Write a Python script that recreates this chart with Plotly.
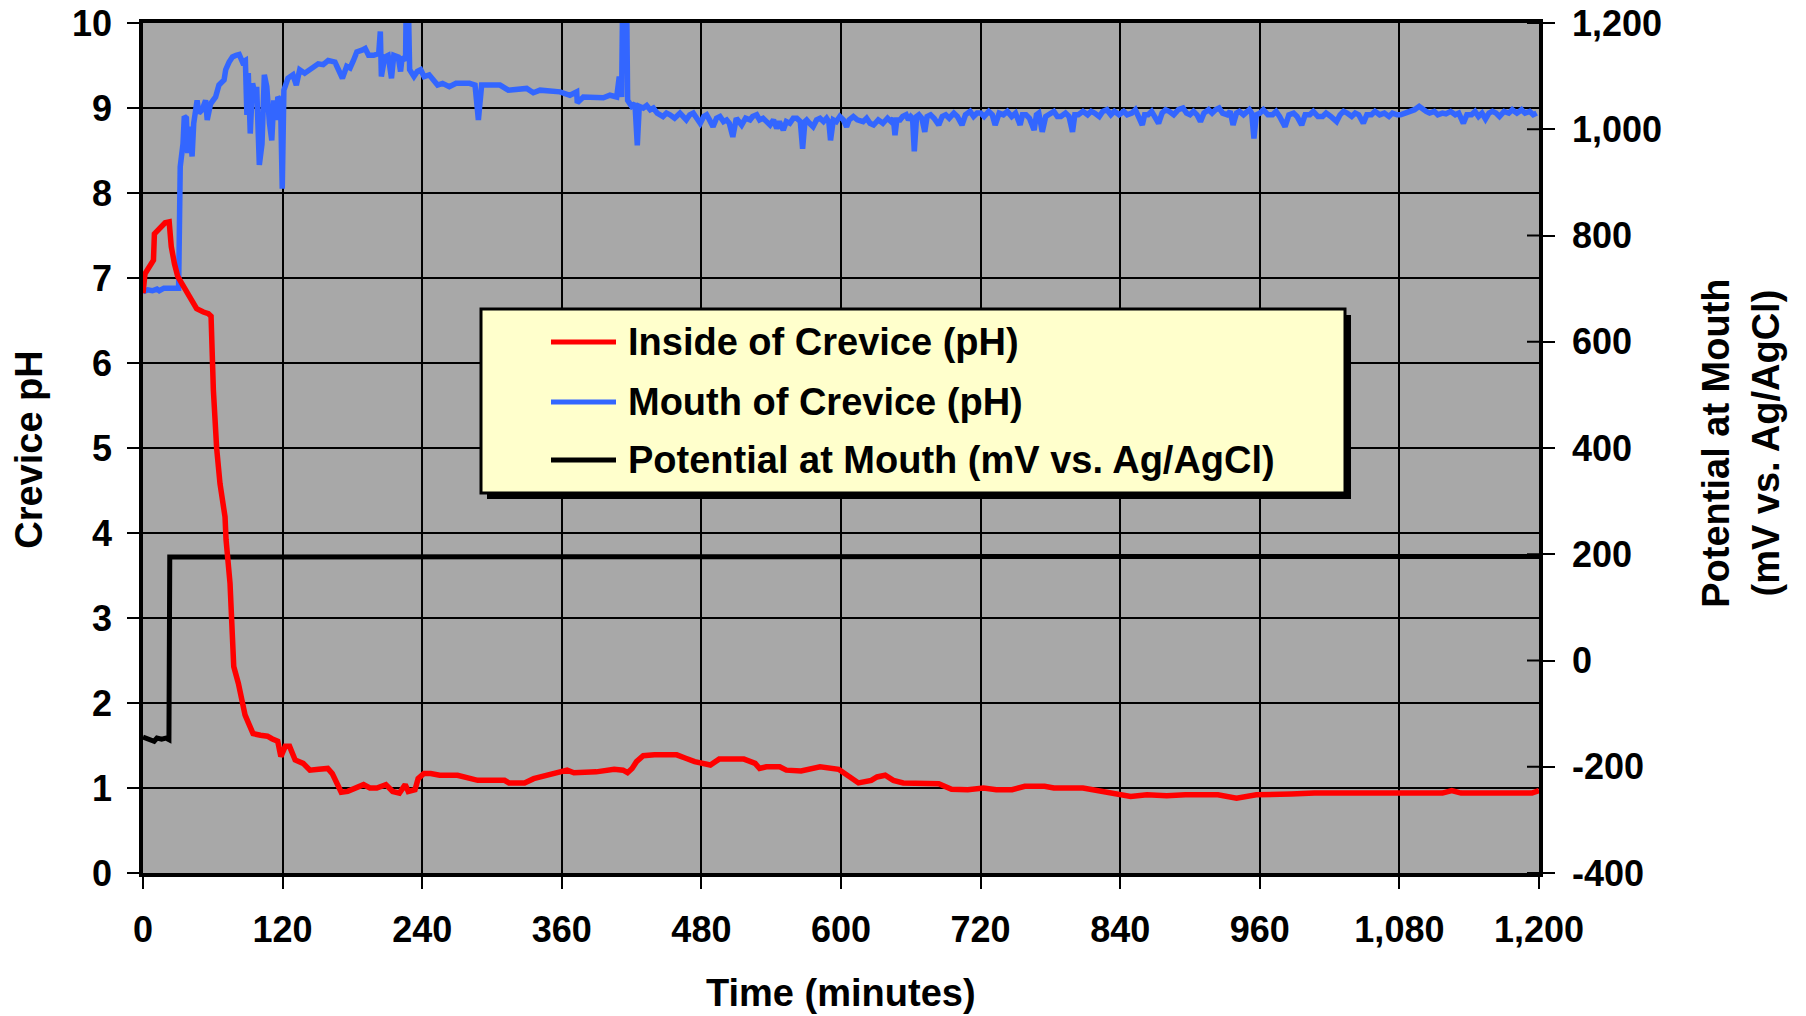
import plotly.graph_objects as go

# ---- data -------------------------------------------------------------
# Inside of crevice pH: (time in minutes, pH)
inside_points = [
    (0, 6.82), (1.7, 7.05), (4, 7.10), (6, 7.15), (9, 7.21), (9.8, 7.52), (13, 7.56),
    (16, 7.60), (19, 7.65), (22.5, 7.66), (24.3, 7.37), (27, 7.17), (29.8, 7.02),
    (33.2, 6.94), (36.4, 6.86), (40.8, 6.76), (46.1, 6.64), (51.9, 6.60), (56.2, 6.58),
    (58.5, 6.55), (60.5, 5.68), (63.3, 5.00), (66.2, 4.58), (70.5, 4.19), (71.4, 3.92),
    (74.8, 3.41), (77.6, 2.70), (78, 2.43), (82, 2.23), (85, 2.00), (87.7, 1.86),
    (90.8, 1.76), (94.6, 1.64), (101, 1.62), (107, 1.61), (110.8, 1.58), (115.8, 1.55),
    (118.5, 1.37), (122.3, 1.49), (126, 1.49), (130.8, 1.33), (137.7, 1.29),
    (143.5, 1.21), (151, 1.22), (158.8, 1.23), (162.7, 1.17), (166.5, 1.06),
    (170.4, 0.95), (176, 0.96), (182, 1.00), (189.6, 1.04), (195, 1.00), (201, 1.00),
    (208.8, 1.04), (214.6, 0.96), (220.4, 0.94), (225.4, 1.04), (228, 0.96),
    (233.8, 0.98), (236.5, 1.11), (241.5, 1.17), (247.3, 1.17), (255, 1.15),
    (270.4, 1.15), (278, 1.13), (287.7, 1.09), (297.3, 1.09), (310.8, 1.09),
    (314.6, 1.06), (328, 1.06), (335.8, 1.11), (347.3, 1.15), (358.8, 1.18),
    (364.6, 1.21), (370.4, 1.18), (389.6, 1.19), (405, 1.22), (412.7, 1.21),
    (416.5, 1.18), (420.4, 1.23), (424.2, 1.31), (430, 1.38), (439.6, 1.39),
    (458.8, 1.39), (466.5, 1.35), (474.2, 1.31), (487.7, 1.27), (495.3, 1.34),
    (516.5, 1.34), (526.2, 1.29), (530, 1.23), (535.8, 1.25), (547.3, 1.25),
    (553, 1.21), (565.7, 1.20), (582, 1.25), (598, 1.22), (606.6, 1.13), (615, 1.06),
    (626, 1.09), (631, 1.13), (638, 1.15), (645, 1.09), (653.5, 1.06), (667, 1.05),
    (684, 1.05), (695, 0.985), (709, 0.98), (722.5, 1.00), (733.5, 0.98), (747, 0.98),
    (758, 1.02), (775, 1.02), (783, 1.00), (808, 1.00), (819, 0.97), (833, 0.93),
    (849, 0.90), (863, 0.92), (880, 0.91), (896, 0.92), (924, 0.92), (940, 0.88),
    (957, 0.92), (987, 0.93), (1007, 0.94), (1117, 0.94), (1125, 0.97), (1133, 0.94),
    (1194, 0.94), (1200, 0.97),
]

# Mouth of crevice pH: (time in minutes, pH)
mouth_points = [
    (0, 6.84), (4, 6.86), (8, 6.85), (12, 6.87), (14, 6.85), (18, 6.88), (24, 6.88),
    (30.6, 6.88), (32, 8.31), (34.4, 8.58), (35.5, 8.90), (37.3, 8.88), (38.4, 8.47),
    (40.2, 8.78), (42.2, 8.43), (43.6, 8.82), (46.5, 9.09), (48, 8.94), (50.9, 8.98),
    (53.8, 9.09), (55.2, 8.86), (58.1, 9.05), (62.4, 9.13), (65.3, 9.27), (69.7, 9.33),
    (71.1, 9.45), (74, 9.54), (76.9, 9.60), (80, 9.62), (82.7, 9.63), (85.5, 9.54),
    (88, 9.56), (89.3, 8.92), (90.5, 9.41), (92.2, 8.70), (94.2, 9.29), (96.2, 9.17),
    (97.7, 9.25), (100, 8.33), (102.3, 8.58), (104.3, 9.39), (106.4, 9.25),
    (108.7, 8.82), (110.7, 8.62), (112.4, 9.09), (114.5, 8.86), (115.9, 9.13),
    (118.2, 9.09), (119.7, 8.05), (121.1, 9.21), (124.6, 9.35), (128.9, 9.39),
    (131.8, 9.27), (134.7, 9.45), (139, 9.41), (143.4, 9.45), (147.7, 9.49),
    (150.6, 9.52), (154.9, 9.51), (159.2, 9.56), (165, 9.54), (169.4, 9.43),
    (171.4, 9.35), (175.1, 9.49), (178, 9.47), (180.9, 9.56), (183.8, 9.66),
    (188.2, 9.68), (191, 9.70), (193.9, 9.62), (198.3, 9.62), (202.6, 9.64),
    (204, 9.90), (204.9, 9.37), (207.8, 9.60), (210.7, 9.62), (213.6, 9.35),
    (215.6, 9.62), (219.4, 9.60), (221.4, 9.43), (222.8, 9.60), (225.7, 9.56),
    (226.3, 10.3), (228, 10.3), (229.2, 9.45), (232.9, 9.37), (235.8, 9.43),
    (238.7, 9.45), (241.6, 9.37), (246, 9.39), (250.3, 9.33), (253.2, 9.27),
    (257.5, 9.29), (263.3, 9.25), (269.1, 9.29), (275, 9.29), (280.6, 9.29),
    (285.4, 9.27), (288.3, 8.86), (291.1, 9.27), (306.9, 9.27), (314, 9.21),
    (329.8, 9.23), (335.5, 9.18), (341.3, 9.21), (358.4, 9.19), (367, 9.15),
    (372.8, 9.19), (373.3, 9.06), (378.5, 9.13), (395.7, 9.12), (401.4, 9.15),
    (407.2, 9.13), (409.4, 9.37), (411.4, 9.13), (412.3, 10.3), (415.7, 10.3),
    (416.6, 9.09), (420, 9.02), (422.9, 9.05), (424.9, 8.56), (426.6, 9.02),
    (430, 9.00), (433, 9.03), (436, 8.98), (438.7, 9.00), (442, 8.94), (447, 8.90),
    (450, 8.94), (453, 8.92), (457, 8.88), (461.6, 8.94), (464, 8.90), (467, 8.86),
    (470, 8.92), (473, 8.94), (476, 8.88), (479, 8.82), (482, 8.90), (484.5, 8.92),
    (487, 8.86), (490, 8.78), (493, 8.88), (496, 8.90), (499, 8.84), (501.7, 8.86),
    (504, 8.82), (507, 8.66), (510, 8.88), (512, 8.84), (514.6, 8.80), (518, 8.88),
    (521.8, 8.86), (524, 8.90), (527.5, 8.92), (530, 8.86), (533, 8.88), (536, 8.84),
    (539, 8.80), (542, 8.86), (544.7, 8.76), (547, 8.84), (550.4, 8.74), (553, 8.84),
    (556, 8.82), (559, 8.88), (562, 8.88), (565, 8.84), (567, 8.52), (569, 8.84),
    (570.5, 8.86), (573, 8.82), (576, 8.78), (579, 8.86), (582, 8.88), (585, 8.84),
    (587.6, 8.88), (589.5, 8.84), (591, 8.62), (593.4, 8.86), (596, 8.84), (599, 8.90),
    (602, 8.86), (604.8, 8.78), (607, 8.86), (610.6, 8.90), (614, 8.86), (619, 8.84),
    (622, 8.88), (625, 8.82), (628, 8.80), (632, 8.86), (636, 8.82), (640, 8.88),
    (643, 8.84), (645, 8.88), (646.4, 8.68), (648, 8.86), (650.7, 8.86), (653, 8.90),
    (656, 8.92), (658, 8.86), (660, 8.90), (661.5, 8.88), (663, 8.49), (665, 8.90),
    (667, 8.92), (669.5, 8.88), (672, 8.72), (674, 8.90), (677, 8.92), (680, 8.88),
    (684, 8.80), (687, 8.90), (690, 8.92), (693, 8.88), (697, 8.94), (700, 8.90),
    (704, 8.80), (707, 8.92), (711, 8.96), (714, 8.90), (717, 8.94), (720, 8.94),
    (723, 8.90), (727, 8.96), (730, 8.92), (732.5, 8.80), (736, 8.94), (739.6, 8.92),
    (743, 8.96), (746.7, 8.90), (750, 8.94), (754, 8.80), (756, 8.92), (759, 8.92),
    (762, 8.88), (766, 8.74), (768, 8.92), (770, 8.94), (773, 8.72), (776, 8.90),
    (779, 8.92), (783, 8.96), (786, 8.90), (789, 8.90), (793, 8.94), (796, 8.90),
    (799, 8.72), (801, 8.92), (804, 8.92), (808, 8.96), (812, 8.92), (815, 8.96),
    (818, 8.94), (822, 8.90), (825, 8.96), (828.6, 8.98), (832, 8.92), (835, 8.96),
    (839, 8.92), (843, 8.96), (846, 8.92), (850, 8.94), (853, 8.98), (856, 8.90),
    (859, 8.80), (861, 8.92), (864, 8.92), (867, 8.96), (870, 8.90), (873, 8.82),
    (876, 8.94), (879, 8.98), (882, 8.96), (886, 8.92), (890, 8.98), (894, 9.00),
    (897, 8.94), (900, 8.92), (903, 8.96), (906, 8.92), (909, 8.84), (912, 8.94),
    (916, 8.98), (919, 8.94), (922, 8.98), (925, 9.00), (928, 8.94), (932, 8.92),
    (934.5, 8.96), (937, 8.80), (940, 8.94), (942.5, 8.96), (946, 8.92), (948.5, 8.96),
    (951, 8.98), (953, 8.94), (955, 8.64), (957, 8.92), (960, 8.94), (963, 8.98),
    (967, 8.92), (971, 8.92), (974, 8.96), (977, 8.90), (981.7, 8.78), (985, 8.92),
    (989, 8.94), (992, 8.90), (996, 8.80), (999, 8.92), (1003, 8.92), (1006, 8.96),
    (1010, 8.90), (1014, 8.90), (1017, 8.94), (1021, 8.90), (1026, 8.84), (1029, 8.92),
    (1032, 8.96), (1035, 8.94), (1039, 8.90), (1042, 8.94), (1045, 8.92), (1049, 8.82),
    (1052, 8.92), (1056, 8.92), (1059, 8.96), (1063, 8.92), (1067, 8.94), (1071, 8.90),
    (1074, 8.94), (1078, 8.92), (1081, 8.92), (1085, 8.94), (1089, 8.96), (1093, 8.98),
    (1097, 9.02), (1100, 8.98), (1103, 8.96), (1106, 8.94), (1110, 8.96), (1113, 8.92),
    (1117, 8.94), (1120, 8.93), (1124, 8.96), (1128, 8.92), (1131, 8.94), (1135, 8.82),
    (1138, 8.92), (1142, 8.92), (1145, 8.96), (1148, 8.90), (1151, 8.94), (1154, 8.87),
    (1157, 8.94), (1160, 8.96), (1163, 8.94), (1166, 8.90), (1170, 8.96), (1174, 8.94),
    (1177, 8.98), (1181, 8.94), (1185, 8.98), (1188, 8.94), (1192, 8.96), (1195, 8.92),
    (1198, 8.94),
]

# Potential at mouth (mV vs. Ag/AgCl): (time in minutes, mV)
potential_points = [
    (0, -144), (3, -146), (6, -148), (9.6, -152), (12, -146), (16, -148),
    (19.6, -146), (22.3, -149), (23, 195), (1200, 196),
]

x_ticks = [0, 120, 240, 360, 480, 600, 720, 840, 960, 1080, 1200]
ph_ticks = list(range(0, 11))
mv_ticks = [-400, -200, 0, 200, 400, 600, 800, 1000, 1200]

legend_items = [
    ("Inside of Crevice (pH)", "#FF0000"),
    ("Mouth of Crevice (pH)", "#3366FF"),
    ("Potential at Mouth (mV vs. Ag/AgCl)", "#000000"),
]

FONT = "Liberation Sans, Arial, Helvetica, sans-serif"


def split(points):
    return [p[0] for p in points], [p[1] for p in points]


inside_t, inside_ph = split(inside_points)
mouth_t, mouth_ph = split(mouth_points)
pot_t, pot_mv = split(potential_points)

fig = go.Figure()

# potential on the primary (right-hand) axis so the pH traces draw above it
fig.add_trace(go.Scatter(x=pot_t, y=pot_mv, mode="lines", yaxis="y",
                         line=dict(color="#000000", width=5),
                         name=legend_items[2][0], showlegend=False))
fig.add_trace(go.Scatter(x=mouth_t, y=mouth_ph, mode="lines", yaxis="y2",
                         line=dict(color="#3366FF", width=5.5),
                         name=legend_items[1][0], showlegend=False))
fig.add_trace(go.Scatter(x=inside_t, y=inside_ph, mode="lines", yaxis="y2",
                         line=dict(color="#FF0000", width=5.5),
                         name=legend_items[0][0], showlegend=False))

tickfont = dict(family=FONT, size=36, color="#000000", weight="bold")
x_labels = [f"{v:,}" for v in x_ticks]
mv_labels = [f"{v:,}" for v in mv_ticks]

fig.update_layout(
    width=1806, height=1016,
    margin=dict(l=143, r=267, t=23, b=143),
    paper_bgcolor="#FFFFFF",
    plot_bgcolor="#A8A8A8",
    showlegend=False,
    xaxis=dict(range=[0, 1200], tickvals=x_ticks, ticktext=x_labels,
               automargin=False,
               showgrid=True, gridcolor="#000000", gridwidth=1.6,
               zeroline=False, showline=True, linecolor="#000000", linewidth=3.5,
               mirror=True, ticks="outside", ticklen=12, tickwidth=2,
               tickcolor="#000000", tickfont=tickfont, ticklabelstandoff=10),
    yaxis=dict(range=[-400, 1200], tickvals=mv_ticks, ticktext=mv_labels,
               automargin=False,
               side="right", showgrid=False, zeroline=False,
               showline=True, linecolor="#000000", linewidth=3.5,
               ticks="outside", ticklen=12, tickwidth=2, tickcolor="#000000",
               tickfont=tickfont, ticklabelstandoff=10),
    yaxis2=dict(range=[0, 10], tickvals=ph_ticks, overlaying="y", side="left",
                automargin=False,
                showgrid=True, gridcolor="#000000", gridwidth=1.6, zeroline=False,
                showline=True, linecolor="#000000", linewidth=3.5,
                ticks="outside", ticklen=12, tickwidth=2, tickcolor="#000000",
                tickfont=tickfont, ticklabelstandoff=8),
)

# inner halves of the cross ticks on the right-hand axis
for v in mv_ticks:
    fig.add_shape(type="line", xref="paper", yref="y", x0=1 - 12 / 1396, x1=1,
                  y0=v, y1=v, line=dict(color="#000000", width=2))

# axis titles
title_font = dict(family=FONT, size=38, color="#000000", weight="bold")
fig.add_annotation(text="Time (minutes)", xref="paper", yref="paper",
                   x=0.5, y=-0.1412, xanchor="center", yanchor="middle",
                   showarrow=False, font=title_font)
fig.add_annotation(text="Crevice pH", xref="paper", yref="paper",
                   x=-0.0817, y=0.499, xanchor="center", yanchor="middle",
                   textangle=-90, showarrow=False, font=title_font)
fig.add_annotation(text="Potential at Mouth<br>(mV vs. Ag/AgCl)", xref="paper",
                   yref="paper", x=1.1447, y=0.505, xanchor="center",
                   yanchor="middle", textangle=-90, showarrow=False,
                   font=title_font)

# legend box with drop shadow
PW, PH = 1396.0, 850.0


def px_x(px):
    return (px - 143) / PW


def px_y(py):
    return (873 - py) / PH


box = (481, 309, 1345, 493)
fig.add_shape(type="rect", xref="paper", yref="paper",
              x0=px_x(box[0] + 6), x1=px_x(box[2] + 6),
              y0=px_y(box[3] + 6), y1=px_y(box[1] + 6),
              line=dict(width=0), fillcolor="#000000", layer="above")
fig.add_shape(type="rect", xref="paper", yref="paper",
              x0=px_x(box[0]), x1=px_x(box[2]),
              y0=px_y(box[3]), y1=px_y(box[1]),
              line=dict(color="#000000", width=3), fillcolor="#FFFFCC",
              layer="above")
row_y = [342, 402, 460]
leg_font = dict(family=FONT, size=38, color="#000000", weight="bold")
for (label, color), ry in zip(legend_items, row_y):
    fig.add_shape(type="line", xref="paper", yref="paper",
                  x0=px_x(551), x1=px_x(616), y0=px_y(ry), y1=px_y(ry),
                  line=dict(color=color, width=5), layer="above")
    fig.add_annotation(text=label, xref="paper", yref="paper",
                       x=px_x(626), y=px_y(ry), xanchor="left", yanchor="middle",
                       showarrow=False, font=leg_font)

fig.write_html("out.html")
